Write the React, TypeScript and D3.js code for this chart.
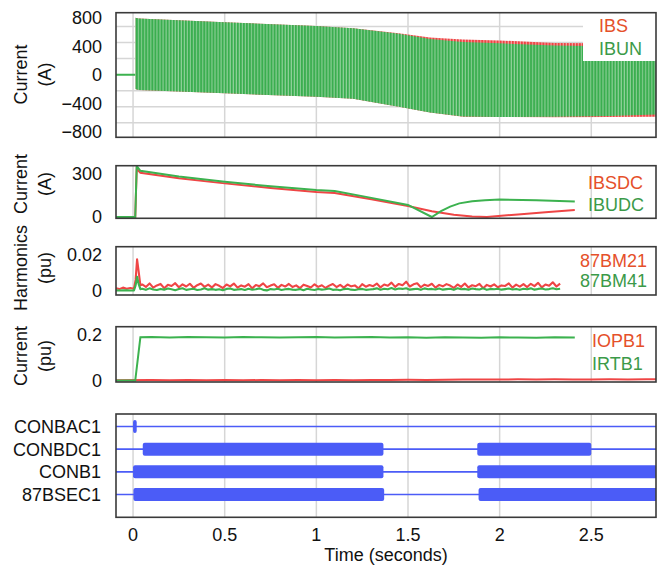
import React from "react";
import * as d3 from "d3";

const W = 658;
const H = 566;
const FONT = "'Liberation Sans', Arial, Helvetica, sans-serif";

// ---------- shared time axis ----------
const timeTicks = [0, 0.5, 1, 1.5, 2, 2.5];
const timeTickLabels = ["0", "0.5", "1", "1.5", "2", "2.5"];

// ---------- panel 1 : IBS / IBUN (A), envelopes of the AC waveform ----------
const envTimes = [0.012, 0.03, 0.5, 1.0, 1.2, 1.45, 1.62, 1.8, 2.0, 2.3, 2.6, 2.853];
const ibsTop = [800, 790, 735, 683, 650, 580, 520, 495, 480, 445, 440, 430];
const ibsBot = [-200, -215, -263, -310, -340, -450, -530, -590, -595, -597, -594, -592];
const ibunTop = [800, 790, 735, 683, 650, 575, 500, 460, 440, 410, 400, 395];
const ibunBot = [-200, -215, -263, -310, -340, -450, -530, -588, -594, -592, -580, -560];
const preFaultT = [-0.093, 0.012];
const preFaultV = [0, 0];
const p1Ticks = [800, 400, 0, -400, -800];
const p1TickLabels = ["800", "400", "0", "\u2212400", "\u2212800"];
const p1Grid = [-675, -450, -225, 225, 450, 675];

// ---------- panel 2 : IBSDC / IBUDC (A) ----------
const ibsdcT = [-0.093, 0.012, 0.02, 0.04, 0.25, 0.5, 0.75, 1.0, 1.1, 1.3, 1.5, 1.63, 1.75, 1.85, 1.93, 2.1, 2.25, 2.41];
const ibsdc = [0, 0, 332, 305, 267, 232, 200, 172, 166, 122, 76, 40, 15, 4, 0, 18, 33, 48];
const ibudcT = [-0.093, 0.012, 0.02, 0.04, 0.25, 0.5, 0.75, 1.0, 1.1, 1.3, 1.5, 1.63, 1.68, 1.73, 1.78, 1.85, 1.92, 2.0, 2.2, 2.41];
const ibudc = [0, 0, 352, 319, 280, 243, 212, 186, 180, 132, 83, 0, 40, 72, 94, 108, 116, 120, 116, 107];
const p2Ticks = [300, 0];
const p2TickLabels = ["300", "0"];

// ---------- panel 3 : 87BM21 / 87BM41 harmonics (pu x 1e-4) ----------
const harmPreT = [-0.093, -0.075, -0.055, -0.035, -0.015, 0.005, 0.014, 0.022, 0.03, 0.04];
const bm21Pre = [15, 10, 18, 12, 16, 12, 60, 171, 110, 30];
const bm41Pre = [3, 2, 4, 3, 2, 3, 30, 77, 40, 10];
const harmStart = 0.05;
const harmStep = 0.02;
const bm21 = [
  35, 22, 41, 18, 30, 38, 15, 33, 27, 42, 20, 36, 24, 39, 17, 31, 40, 22, 34, 19, 37,
  28, 16, 35, 25, 40, 18, 30, 23, 37, 14, 32, 26, 41, 20, 29, 36, 17, 33, 24, 38, 21,
  30, 15, 34, 27, 19, 36, 22, 31, 16, 29, 38, 21, 33, 18, 35, 25, 30, 14, 37, 23, 32,
  26, 40, 19, 35, 28, 45, 22, 38, 31, 50, 24, 36, 42, 20, 34, 27, 39, 18, 33, 25, 37,
  29, 16, 35, 22, 40, 19, 31, 26, 38, 15, 33, 24, 36, 20, 30, 27, 41, 18, 34, 23, 37,
  21, 39, 26, 44, 19, 35, 28, 47, 24, 40,
];
const bm41 = [
  12, 6, 14, 8, 5, 11, 7, 13, 9, 4, 10, 15, 6, 9, 12, 5, 8, 14, 7, 10, 6,
  9, 4, 11, 13, 6, 8, 10, 5, 12, 7, 9, 14, 6, 3, 10, 8, 12, 5, 9, 11, 7,
  6, 10, 4, 12, 8, 5, 11, 7, 9, 13, 6, 8, 4, 10, 12, 7, 5, 9, 11, 6, 8,
  10, 14, 7, 12, 9, 16, 8, 13, 11, 15, 7, 10, 12, 6, 14, 9, 11, 8, 13, 7, 10,
  12, 6, 15, 9, 11, 7, 13, 10, 8, 14, 6, 11, 9, 12, 7, 10, 13, 8, 11, 6, 12,
  9, 14, 7, 11, 13, 8, 10, 15, 9, 12,
];
const p3Ticks = [200, 0];
const p3TickLabels = ["0.02", "0"];

// ---------- panel 4 : IOPB1 / IRTB1 (pu) ----------
const iopbT = [-0.093, 0.1, 0.2, 0.3, 0.4, 0.5, 0.6, 0.7, 0.8, 0.9, 1.0, 1.1, 1.2, 1.3, 1.4, 1.5, 1.6, 1.7, 1.8, 1.9, 2.0, 2.1, 2.2, 2.3, 2.4, 2.5, 2.6, 2.7, 2.8, 2.853];
const iopb = [0.001, 0.002, 0.001, 0.002, 0.001, 0.002, 0.001, 0.002, 0.0015, 0.002, 0.001, 0.002, 0.0015, 0.002, 0.0025, 0.003, 0.0025, 0.0035, 0.004, 0.0045, 0.004, 0.005, 0.0045, 0.005, 0.004, 0.0045, 0.005, 0.004, 0.005, 0.0055];
const irtbT = [-0.093, 0.012, 0.04, 0.1, 0.2, 0.3, 0.4, 0.5, 0.6, 0.7, 0.8, 0.9, 1.0, 1.1, 1.2, 1.3, 1.4, 1.5, 1.6, 1.7, 1.8, 1.9, 2.0, 2.1, 2.2, 2.3, 2.41];
const irtb = [0, 0, 0.19, 0.191, 0.189, 0.191, 0.19, 0.189, 0.191, 0.19, 0.189, 0.19, 0.191, 0.189, 0.19, 0.191, 0.189, 0.19, 0.188, 0.19, 0.189, 0.188, 0.19, 0.189, 0.188, 0.19, 0.189];
const p4Ticks = [0.2, 0];
const p4TickLabels = ["0.2", "0"];

// ---------- panel 5 : digital elements ----------
const digitalNames = ["CONBAC1", "CONBDC1", "CONB1", "87BSEC1"];
const conbac1On = [[0.0, 0.02]];
const conbdc1On = [[0.053, 1.366], [1.878, 2.5]];
const conb1On = [[0.0, 1.366], [1.878, 2.86]];
const bsec1On = [[0.002, 1.37], [1.885, 2.86]];
const digitalOn = [conbac1On, conbdc1On, conb1On, bsec1On];

// ---------- colours ----------
const RED = "#ef4545";
const GREEN = "#3cb24f";
const RED_TXT = "#e5502a";
const GREEN_TXT = "#3b9a49";
const BLUE = "#4b5cf7";
const GRID = "#d6d6d6";
const BORDER = "#3a3a3a";

// ---------- layout ----------
const X0 = 116;
const X1 = 656;
const P1 = { top: 12.7, bottom: 137.3 };
const P2 = { top: 165.7, bottom: 218.3 };
const P3 = { top: 246.7, bottom: 295 };
const P4 = { top: 326.7, bottom: 382 };
const P5 = { top: 414, bottom: 517.3 };

export default function App() {
  const x = d3.scaleLinear().domain([-0.093, 2.853]).range([X0, X1]);
  const y1 = d3.scaleLinear().domain([-880, 870]).range([P1.bottom, P1.top]);
  const y2 = d3.scaleLinear().domain([-9, 354]).range([P2.bottom, P2.top]);
  const y3 = d3.scaleLinear().domain([-22, 240]).range([P3.bottom, P3.top]);
  const y4 = d3.scaleLinear().domain([-0.0066, 0.2365]).range([P4.bottom, P4.top]);
  const yRow = d3.scalePoint<string>().domain(digitalNames).range([426.5, 494.5]);

  const envIdx = envTimes.map((_, i) => i);
  const areaGen = (top: number[], bot: number[]) =>
    d3
      .area<number>()
      .x((i) => x(envTimes[i]))
      .y0((i) => y1(bot[i]))
      .y1((i) => y1(top[i]))(envIdx) || "";

  const lineXY = (ts: number[], vs: number[], ys: d3.ScaleLinear<number, number>) =>
    d3
      .line<number>()
      .x((i) => x(ts[i]))
      .y((i) => ys(vs[i]))(ts.map((_, i) => i)) || "";

  const harmT = harmPreT.concat(bm21.map((_, i) => harmStart + i * harmStep));
  const bm21All = bm21Pre.concat(bm21);
  const bm41All = bm41Pre.concat(bm41);

  const cycleW = x(1 / 60) - x(0);

  const panels = [P1, P2, P3, P4, P5];

  const vGrid = (p: { top: number; bottom: number }, key: string) =>
    timeTicks.map((t) => (
      <line key={key + t} x1={x(t)} x2={x(t)} y1={p.top} y2={p.bottom} stroke={GRID} strokeWidth={1.5} />
    ));

  const yTicks = (vals: number[], labels: string[], ys: (v: number) => number, key: string) =>
    vals.map((v, i) => (
      <text key={key + i} x={102} y={ys(v)} dy="0.36em" textAnchor="end" fontSize={18} fill="#111">
        {labels[i]}
      </text>
    ));

  const yTitle = (lines: string[], cy: number, key: string) => (
    <g key={key}>
      <text transform={`translate(27,${cy}) rotate(-90)`} textAnchor="middle" fontSize={18} fill="#111">
        {lines[0]}
      </text>
      <text transform={`translate(51,${cy}) rotate(-90)`} textAnchor="middle" fontSize={18} fill="#111">
        {lines[1]}
      </text>
    </g>
  );

  const legend = (names: string[], x0: number, ys: number[], key: string) => (
    <g key={key} fontSize={18}>
      <text x={x0} y={ys[0]} fill={RED_TXT}>{names[0]}</text>
      <text x={x0} y={ys[1]} fill={GREEN_TXT}>{names[1]}</text>
    </g>
  );

  return (
    <svg
      width={W}
      height={H}
      viewBox={`0 0 ${W} ${H}`}
      style={{ position: "absolute", left: 0, top: 0, background: "#fff" }}
      fontFamily={FONT}
    >
      <defs>
        {panels.map((p, i) => (
          <clipPath id={`clip${i}`} key={i}>
            <rect x={X0} y={p.top} width={X1 - X0} height={p.bottom - p.top} />
          </clipPath>
        ))}
        <pattern id="gstripe" patternUnits="userSpaceOnUse" x={x(0)} y={0} width={cycleW} height={20}>
          <rect width={cycleW} height={20} fill="#3aae4f" />
          <rect x={cycleW * 0.64} width={cycleW * 0.36} height={20} fill="#8fd099" />
        </pattern>
        <pattern id="rstripe" patternUnits="userSpaceOnUse" x={x(0)} y={0} width={cycleW} height={20}>
          <rect width={cycleW} height={20} fill="#ee4343" />
          <rect x={cycleW * 0.64} width={cycleW * 0.36} height={20} fill="#f6a4a4" />
        </pattern>
      </defs>

      {/* ---------- Panel 1 ---------- */}
      {p1Grid.map((v) => (
        <line key={"hg" + v} x1={X0} x2={X1} y1={y1(v)} y2={y1(v)} stroke={GRID} strokeWidth={1.5} />
      ))}
      {vGrid(P1, "p1")}
      <g clipPath="url(#clip0)">
        <path d={areaGen(ibsTop, ibsBot)} fill="url(#rstripe)" />
        <path d={areaGen(ibunTop, ibunBot)} fill="url(#gstripe)" />
        <path d={lineXY(preFaultT, preFaultV, y1)} fill="none" stroke={GREEN} strokeWidth={2} />
      </g>
      <rect x={583} y={P1.top} width={X1 - 583} height={61 - P1.top} fill="#fff" />
      {legend(["IBS", "IBUN"], 599, [31.5, 55], "l1")}
      <rect x={X0} y={P1.top} width={X1 - X0} height={P1.bottom - P1.top} fill="none" stroke={BORDER} strokeWidth={1.6} />
      {yTicks(p1Ticks, p1TickLabels, y1, "t1")}
      {yTitle(["Current", "(A)"], 74.5, "yt1")}

      {/* ---------- Panel 2 ---------- */}
      {vGrid(P2, "p2")}
      <g clipPath="url(#clip1)">
        <path d={lineXY(ibsdcT, ibsdc, y2)} fill="none" stroke={RED} strokeWidth={2} />
        <path d={lineXY(ibudcT, ibudc, y2)} fill="none" stroke={GREEN} strokeWidth={2} />
      </g>
      {legend(["IBSDC", "IBUDC"], 588, [188.5, 210.5], "l2")}
      <rect x={X0} y={P2.top} width={X1 - X0} height={P2.bottom - P2.top} fill="none" stroke={BORDER} strokeWidth={1.6} />
      {yTicks(p2Ticks, p2TickLabels, y2, "t2")}
      {yTitle(["Current", "(A)"], 184, "yt2")}

      {/* ---------- Panel 3 ---------- */}
      {vGrid(P3, "p3")}
      <g clipPath="url(#clip2)">
        <path d={lineXY(harmT, bm21All, y3)} fill="none" stroke={RED} strokeWidth={2.1} strokeLinejoin="round" />
        <path d={lineXY(harmT, bm41All, y3)} fill="none" stroke={GREEN} strokeWidth={2.1} strokeLinejoin="round" />
      </g>
      {legend(["87BM21", "87BM41"], 580, [266.5, 287], "l3")}
      <rect x={X0} y={P3.top} width={X1 - X0} height={P3.bottom - P3.top} fill="none" stroke={BORDER} strokeWidth={1.6} />
      {yTicks(p3Ticks, p3TickLabels, y3, "t3")}
      {yTitle(["Harmonics", "(pu)"], 268, "yt3")}

      {/* ---------- Panel 4 ---------- */}
      {vGrid(P4, "p4")}
      <g clipPath="url(#clip3)">
        <path d={lineXY(iopbT, iopb, y4)} fill="none" stroke={RED} strokeWidth={2} />
        <path d={lineXY(irtbT, irtb, y4)} fill="none" stroke={GREEN} strokeWidth={2} />
      </g>
      {legend(["IOPB1", "IRTB1"], 592, [347, 370], "l4")}
      <rect x={X0} y={P4.top} width={X1 - X0} height={P4.bottom - P4.top} fill="none" stroke={BORDER} strokeWidth={1.6} />
      {yTicks(p4Ticks, p4TickLabels, y4, "t4")}
      {yTitle(["Current", "(pu)"], 356, "yt4")}

      {/* ---------- Panel 5 ---------- */}
      {vGrid(P5, "p5")}
      <g clipPath="url(#clip4)">
        {digitalNames.map((n) => (
          <line key={"dl" + n} x1={X0} x2={X1} y1={yRow(n)} y2={yRow(n)} stroke={BLUE} strokeWidth={1.6} />
        ))}
        {digitalNames.map((n, i) =>
          digitalOn[i].map((seg, j) => (
            <rect
              key={"db" + n + j}
              x={x(seg[0])}
              y={(yRow(n) as number) - 6.5}
              width={x(seg[1]) - x(seg[0])}
              height={13}
              rx={2}
              fill={BLUE}
            />
          ))
        )}
      </g>
      <rect x={X0} y={P5.top} width={X1 - X0} height={P5.bottom - P5.top} fill="none" stroke={BORDER} strokeWidth={1.6} />
      {digitalNames.map((n) => (
        <text key={"dn" + n} x={101} y={yRow(n)} dy="0.36em" textAnchor="end" fontSize={18} fill="#111">
          {n}
        </text>
      ))}

      {/* ---------- X axis ---------- */}
      {timeTicks.map((t, i) => (
        <text key={"xt" + t} x={x(t)} y={541} textAnchor="middle" fontSize={18} fill="#111">
          {timeTickLabels[i]}
        </text>
      ))}
      <text x={(X0 + X1) / 2} y={561} textAnchor="middle" fontSize={18} fill="#111">
        Time (seconds)
      </text>
    </svg>
  );
}
